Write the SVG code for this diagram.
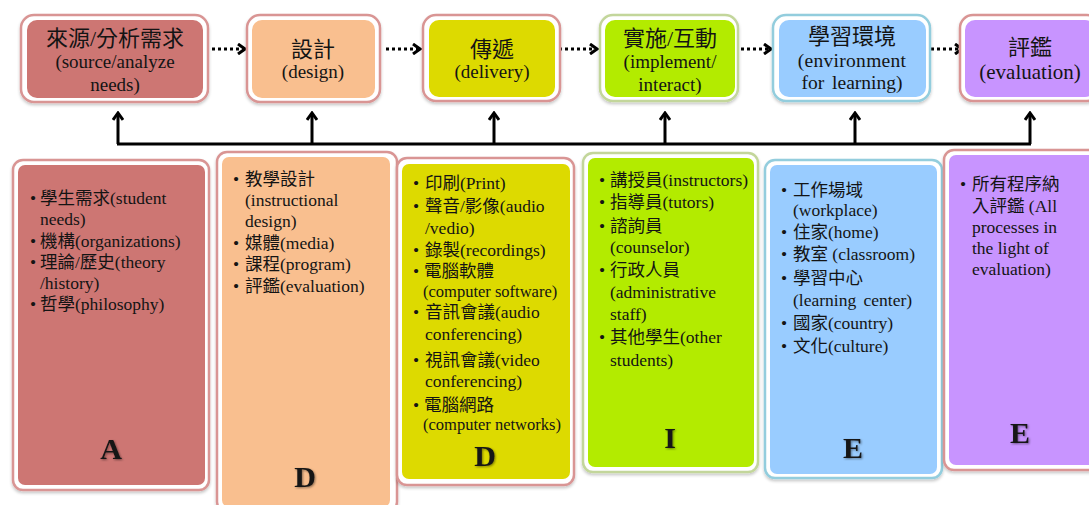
<svg xmlns="http://www.w3.org/2000/svg" width="1089" height="505" viewBox="0 0 1089 505">
<defs>
<filter id="sh" x="-10%" y="-10%" width="120%" height="125%">
<feDropShadow dx="0" dy="2" stdDeviation="1.5" flood-color="#000" flood-opacity="0.22"/>
</filter>
<filter id="ls" x="-20%" y="-20%" width="150%" height="150%">
<feDropShadow dx="1" dy="1" stdDeviation="0.8" flood-color="#000" flood-opacity="0.45"/>
</filter>
<marker id="chev" viewBox="0 0 10 12" refX="8" refY="6" markerWidth="10" markerHeight="12" markerUnits="userSpaceOnUse" orient="auto">
<path d="M1,1 L8,6 L1,11" fill="none" stroke="#000" stroke-width="3" stroke-dasharray="none"/>
</marker>
</defs>
<style>
.o{fill:#fff;stroke-width:2.5;filter:url(#sh)}
.pk{stroke:#D99594}.gn{stroke:#C3D69B}.bl{stroke:#93CDDD}
.cA{fill:#CD7673}.cO{fill:#F9BF8F}.cY{fill:#DDDA00}.cG{fill:#B3EB00}.cB{fill:#99CCFF}.cP{fill:#C894FF}
text{font-family:"Liberation Serif","Noto Sans CJK TC",serif;fill:#141414}
.h{font-size:22px;text-anchor:middle}
.e{font-size:19px;text-anchor:middle}
.l{font-size:17.5px}
.s{font-size:16.5px}
.k{font-size:30px;font-weight:bold;text-anchor:middle;filter:url(#ls)}
.dot{fill:none;stroke:#000;stroke-width:3;stroke-dasharray:3 3}
.ln{fill:none;stroke:#000;stroke-width:3}
</style>
<rect width="1089" height="505" fill="#fff"/>

<g id="connectors">
<path class="dot" d="M212,49 H245" marker-end="url(#chev)"/>
<path class="dot" d="M386,49 H420" marker-end="url(#chev)"/>
<path class="dot" d="M559,49 H597" marker-end="url(#chev)"/>
<path class="dot" d="M741,49 H771" marker-end="url(#chev)"/>
<path class="dot" d="M931,49 H962" marker-end="url(#chev)"/>
<path class="ln" d="M117,144 H1031"/>
<path class="ln" d="M118,144 V113" marker-end="url(#chev)"/>
<path class="ln" d="M312,144 V113" marker-end="url(#chev)"/>
<path class="ln" d="M494,144 V113" marker-end="url(#chev)"/>
<path class="ln" d="M665,144 V113" marker-end="url(#chev)"/>
<path class="ln" d="M855,144 V113" marker-end="url(#chev)"/>
<path class="ln" d="M1030,144 V113" marker-end="url(#chev)"/>
</g>

<g id="top-source">
<rect class="o pk" x="21" y="15" width="187" height="87" rx="13"/>
<rect class="cA" x="27" y="20" width="176" height="78" rx="10"/>
<text class="h" x="115" y="46">來源/分析需求</text>
<text class="e" x="115" y="68">(source/analyze</text>
<text class="e" x="115" y="91">needs)</text>
</g>
<g id="top-design">
<rect class="o pk" x="247" y="15" width="133" height="87" rx="13"/>
<rect class="cO" x="252" y="20" width="123" height="78" rx="10"/>
<text class="h" x="313" y="57">設計</text>
<text class="e" x="313" y="78">(design)</text>
</g>
<g id="top-delivery">
<rect class="o pk" x="423" y="15" width="137" height="86" rx="13"/>
<rect class="cY" x="429" y="20" width="126" height="77" rx="10"/>
<text class="h" x="492" y="57">傳遞</text>
<text class="e" x="492" y="78">(delivery)</text>
</g>
<g id="top-implement">
<rect class="o gn" x="600" y="15" width="138" height="86" rx="13"/>
<rect class="cG" x="605" y="20" width="130" height="77" rx="10"/>
<text class="h" x="670" y="46">實施/互動</text>
<text class="e" x="670" y="68">(implement/</text>
<text class="e" x="670" y="91">interact)</text>
</g>
<g id="top-environment">
<rect class="o bl" x="773" y="15" width="157" height="86" rx="13"/>
<rect class="cB" x="779" y="20" width="147" height="77" rx="10"/>
<text class="h" x="852" y="44">學習環境</text>
<text class="e" x="852" y="67" style="font-size:19.5px;letter-spacing:0.3px">(environment</text>
<text class="e" x="852" y="89" style="font-size:19.5px;word-spacing:3px">for learning)</text>
</g>
<g id="top-evaluation">
<rect class="o pk" x="960" y="15" width="140" height="86" rx="13"/>
<rect class="cP" x="965" y="20" width="130" height="77" rx="10"/>
<text class="h" x="1030" y="55">評鑑</text>
<text class="e" x="1030" y="79" style="font-size:21px">(evaluation)</text>
</g>

<g id="box-A">
<rect class="o pk" x="13" y="160" width="196" height="330" rx="10"/>
<rect class="cA" x="18" y="165" width="187" height="320" rx="7"/>
<text class="l" x="30" y="204">•</text>
<text class="l" x="30" y="247">•</text>
<text class="l" x="30" y="268">•</text>
<text class="l" x="30" y="310">•</text>
<text class="l" x="40" y="204">學生需求(student</text>
<text class="l" x="40" y="225">needs)</text>
<text class="l" x="40" y="247">機構(organizations)</text>
<text class="l" x="40" y="268">理論/歷史(theory</text>
<text class="l" x="40" y="289">/history)</text>
<text class="l" x="40" y="310">哲學(philosophy)</text>
<text class="k" x="111" y="459">A</text>
</g>

<g id="box-D-design">
<rect class="o pk" x="217" y="152" width="180" height="360" rx="10"/>
<rect class="cO" x="222" y="157" width="168" height="350" rx="7"/>
<text class="l" x="233" y="185">•</text>
<text class="l" x="233" y="249">•</text>
<text class="l" x="233" y="270">•</text>
<text class="l" x="233" y="292">•</text>
<text class="l" x="245" y="185">教學設計</text>
<text class="l" x="245" y="206">(instructional</text>
<text class="l" x="245" y="227">design)</text>
<text class="l" x="245" y="249">媒體(media)</text>
<text class="l" x="245" y="270">課程(program)</text>
<text class="l" x="245" y="292">評鑑(evaluation)</text>
<text class="k" x="305" y="487">D</text>
</g>

<g id="box-D-delivery">
<rect class="o pk" x="397" y="158" width="177" height="327" rx="10"/>
<rect class="cY" x="402" y="164" width="168" height="315" rx="7"/>
<text class="l" x="413" y="189">•</text>
<text class="l" x="413" y="212">•</text>
<text class="l" x="413" y="256">•</text>
<text class="l" x="413" y="277">•</text>
<text class="l" x="413" y="318">•</text>
<text class="l" x="413" y="366">•</text>
<text class="l" x="413" y="411">•</text>
<text class="l" x="425" y="189">印刷(Print)</text>
<text class="l" x="425" y="212">聲音/影像(audio</text>
<text class="l" x="425" y="234">/vedio)</text>
<text class="l" x="425" y="256">錄製(recordings)</text>
<text class="l" x="424" y="277">電腦軟體</text>
<text class="s" x="423" y="297">(computer software)</text>
<text class="l" x="425" y="318">音訊會議(audio</text>
<text class="l" x="425" y="340">conferencing)</text>
<text class="l" x="425" y="366">視訊會議(video</text>
<text class="l" x="425" y="387">conferencing)</text>
<text class="l" x="424" y="411">電腦網路</text>
<text class="s" x="423" y="430">(computer networks)</text>
<text class="k" x="485" y="466">D</text>
</g>

<g id="box-I">
<rect class="o gn" x="583" y="153" width="175" height="319" rx="10"/>
<rect class="cG" x="588" y="158" width="166" height="309" rx="7"/>
<text class="l" x="599" y="186">•</text>
<text class="l" x="599" y="208">•</text>
<text class="l" x="599" y="232">•</text>
<text class="l" x="599" y="276">•</text>
<text class="l" x="599" y="343">•</text>
<text class="l" x="610" y="186">講授員(instructors)</text>
<text class="l" x="610" y="208">指導員(tutors)</text>
<text class="l" x="610" y="232">諮詢員</text>
<text class="l" x="610" y="253">(counselor)</text>
<text class="l" x="610" y="276">行政人員</text>
<text class="l" x="610" y="298">(administrative</text>
<text class="l" x="610" y="320">staff)</text>
<text class="l" x="610" y="343">其他學生(other</text>
<text class="l" x="610" y="366">students)</text>
<text class="k" x="670" y="448">I</text>
</g>

<g id="box-E-environment">
<rect class="o bl" x="765" y="160" width="177" height="318" rx="10"/>
<rect class="cB" x="770" y="165" width="167" height="309" rx="7"/>
<text class="l" x="781" y="196">•</text>
<text class="l" x="781" y="238">•</text>
<text class="l" x="781" y="260">•</text>
<text class="l" x="781" y="284">•</text>
<text class="l" x="781" y="329">•</text>
<text class="l" x="781" y="352">•</text>
<text class="l" x="793" y="196">工作場域</text>
<text class="l" x="793" y="216">(workplace)</text>
<text class="l" x="793" y="238">住家(home)</text>
<text class="l" x="793" y="260">教室 (classroom)</text>
<text class="l" x="793" y="284">學習中心</text>
<text class="l" x="793" y="306" style="word-spacing:3px">(learning center)</text>
<text class="l" x="793" y="329">國家(country)</text>
<text class="l" x="793" y="352">文化(culture)</text>
<text class="k" x="853" y="458">E</text>
</g>

<g id="box-E-evaluation">
<rect class="o pk" x="944" y="150" width="160" height="320" rx="10"/>
<rect class="cP" x="949" y="155" width="150" height="310" rx="7"/>
<text class="l" x="960" y="190">•</text>
<text class="l" x="972" y="190">所有程序納</text>
<text class="l" x="972" y="212">入評鑑 (All</text>
<text class="l" x="972" y="233">processes in</text>
<text class="l" x="972" y="254">the light of</text>
<text class="l" x="972" y="275">evaluation)</text>
<text class="k" x="1020" y="443">E</text>
</g>
</svg>
